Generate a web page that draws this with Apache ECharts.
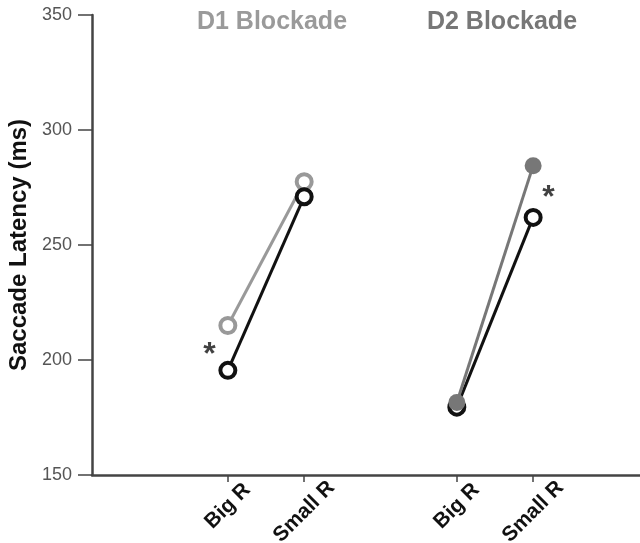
<!DOCTYPE html>
<html>
<head>
<meta charset="utf-8">
<script src="https://cdn.jsdelivr.net/npm/echarts@6/dist/echarts.min.js"></script>
<style>
    html, body { margin: 0; padding: 0; background: #fff; }
    #main { width: 640px; height: 543px; }
</style>
</head>
<body>
<div id="main"></div>
<script>
    // x positions of the four conditions (two per blockade group)
    const xPos = [0, 1, 3, 4];
    const xLabels = ['Big R', 'Small R', 'Big R', 'Small R'];
    const yTicks = [150, 200, 250, 300, 350];

    // latencies (ms)
    const d1Gray = [215, 277.5];
    const d1Black = [195.5, 271];
    const d2Gray = [181.5, 284.5];
    const d2Black = [179.5, 262];

    // significance markers: [x, y]
    const stars = [[-0.24, 202], [4.2, 270.5]];

    const pairs = (xs, ys) => ys.map((v, i) => [xs[i], v]);

    const lineSeries = (name, data, color, filled) => ({
        name: name,
        type: 'line',
        data: data,
        symbol: 'circle',
        symbolSize: filled ? 17 : 15,
        lineStyle: { color: color, width: 3 },
        itemStyle: {
            color: filled ? color : '#fff',
            borderColor: color,
            borderWidth: filled ? 0 : 4
        },
        animation: false
    });

    let chart = echarts.init(document.getElementById('main'));
    chart.setOption({
        animation: false,
        title: [
            { text: 'D1 Blockade', left: 267, top: 5, textAlign: 'center',
              textStyle: { color: '#9a9a9a', fontSize: 25, fontWeight: 'bold', fontFamily: 'Liberation Sans' } },
            { text: 'D2 Blockade', left: 497, top: 5, textAlign: 'center',
              textStyle: { color: '#777777', fontSize: 25, fontWeight: 'bold', fontFamily: 'Liberation Sans' } }
        ],
        grid: { left: 92, right: 0, top: 15, bottom: 68, containLabel: false, outerBoundsMode: 'none' },
        xAxis: {
            type: 'value',
            min: -1.78,
            max: 5.4,
            splitLine: { show: false },
            axisLine: { onZero: false, lineStyle: { color: '#444', width: 2.5 } },
            axisTick: {
                show: true, length: 7, customValues: xPos,
                lineStyle: { color: '#444', width: 1.5 }
            },
            axisLabel: {
                customValues: xPos,
                rotate: 45,
                align: 'center',
                verticalAlign: 'middle',
                margin: 31,
                color: '#111',
                fontSize: 21,
                fontWeight: 'bold',
                fontFamily: 'Liberation Sans',
                formatter: v => {
                    const t = xLabels[xPos.indexOf(v)] || '';
                    return t.length > 5 ? '{s|' + t + '}' : t;
                },
                rich: {
                    s: {
                        fontSize: 21, fontWeight: 'bold', fontFamily: 'Liberation Sans',
                        color: '#111', padding: [8, 8, 0, 0]
                    }
                }
            }
        },
        yAxis: {
            type: 'value',
            min: 150,
            max: 350,
            interval: 50,
            name: 'Saccade Latency (ms)',
            nameLocation: 'middle',
            nameGap: 59,
            nameTextStyle: { color: '#111', fontSize: 24, fontWeight: 'bold', fontFamily: 'Liberation Sans' },
            splitLine: { show: false },
            axisLine: { show: true, onZero: false, lineStyle: { color: '#444', width: 2.5 } },
            axisTick: { show: true, length: 14, lineStyle: { color: '#444', width: 1.5 } },
            axisLabel: {
                margin: 20,
                color: '#555',
                fontSize: 18,
                fontFamily: 'Liberation Sans',
                customValues: yTicks
            }
        },
        series: [
            lineSeries('D1 gray', pairs(xPos.slice(0, 2), d1Gray), '#999999', false),
            lineSeries('D1 black', pairs(xPos.slice(0, 2), d1Black), '#111111', false),
            lineSeries('D2 black', pairs(xPos.slice(2), d2Black), '#111111', false),
            lineSeries('D2 gray', pairs(xPos.slice(2), d2Gray), '#777777', true),
            {
                name: 'stars',
                type: 'scatter',
                data: stars,
                symbolSize: 0,
                label: {
                    show: true,
                    position: 'inside',
                    formatter: '*',
                    color: '#111',
                    fontSize: 32,
                    fontWeight: 'bold',
                    fontFamily: 'Liberation Sans'
                }
            }
        ]
    });
</script>
</body>
</html>
